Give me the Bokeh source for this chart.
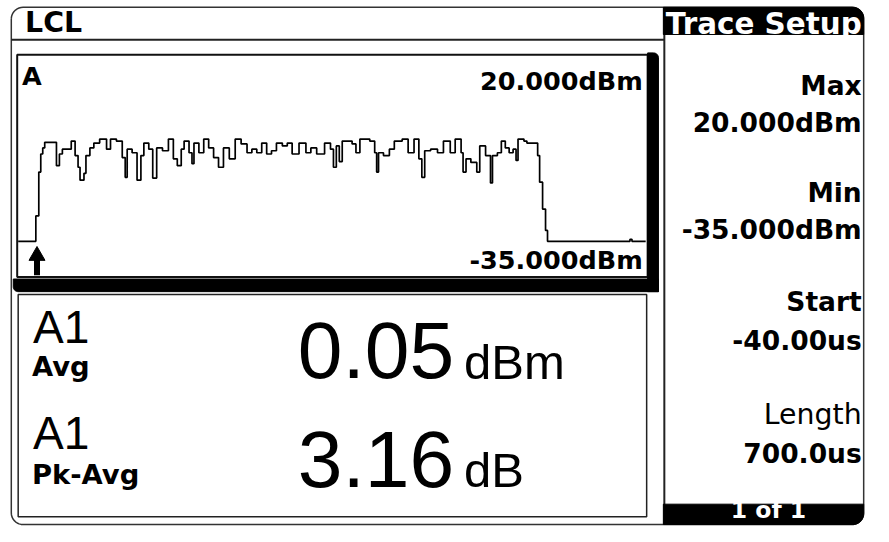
import numpy as np
from bokeh.plotting import figure
from bokeh.models import Range1d
from bokeh.core.properties import value
from bokeh.embed import file_html
from bokeh.resources import INLINE

HEADER = "LCL"
MENU_TITLE = "Trace Setup"
MENU_PAGE = "1 of 1"
CHANNEL = "A"
MAX_DBM = 20.0
MIN_DBM = -35.0
START_US = -40.0
LENGTH_US = 700.0
MEAS_NAMES = ["A1", "A1"]
MEAS_KINDS = ["Avg", "Pk-Avg"]
MEAS_VALUES = [0.05, 3.16]
MEAS_UNITS = ["dBm", "dB"]
TRIGGER_US = -19.0

TRACE_US = [-40.0, -20.3, -17.0, -14.8, -12.6, -10.4, 2.7, 6.0, 9.3, 19.2,
            23.5, 26.8, 29.0, 33.4, 35.6, 40.0, 44.4, 50.9, 58.6, 63.0,
            69.6, 76.1, 79.4, 81.6, 87.1, 92.6, 96.9, 100.2, 105.7, 110.1,
            114.5, 121.0, 127.6, 133.1, 137.5, 141.9, 145.1, 150.6, 153.9, 156.1,
            161.6, 167.0, 172.5, 178.0, 183.5, 189.0, 195.5, 202.1, 208.7, 215.3,
            220.7, 226.2, 231.7, 237.2, 242.6, 248.1, 254.7, 260.2, 265.6, 273.3,
            281.0, 286.5, 293.0, 301.8, 308.4, 311.7, 314.9, 318.2, 321.5, 332.5,
            336.8, 341.2, 352.2, 357.7, 359.9, 362.0, 367.5, 374.1, 379.6, 388.4,
            395.0, 401.6, 407.0, 410.3, 413.5, 420.1, 427.8, 434.4, 442.0, 447.5,
            454.1, 456.3, 459.6, 465.0, 471.6, 474.9, 481.4, 486.9, 489.1, 494.6,
            499.0, 503.4, 507.7, 512.1, 515.4, 517.6, 524.2, 527.5, 539.5, 541.7,
            545.0, 548.3, 550.5, 642.5, 644.7, 660.0]
TRACE_DBM = [-26.1, -19.8, -8.9, -4.4, -2.9, -1.5, -7.3, -4.4, -3.2, -1.2,
             -4.8, -7.7, -10.9, -9.2, -4.8, -2.9, -1.7, -0.7, -3.2, -0.7,
             -1.2, -5.3, -10.2, -3.2, -4.1, -10.9, -4.8, -1.7, -3.2, -10.4,
             -2.9, -3.6, -0.7, -5.6, -7.3, -3.2, -1.2, -4.1, -6.8, -1.7,
             -4.1, -0.7, -2.9, -5.3, -7.7, -2.9, -5.6, -0.7, -1.9, -4.1,
             -3.2, -4.1, -1.7, -4.4, -3.6, -1.7, -2.4, -1.7, -4.4, -1.7,
             -4.1, -2.9, -4.4, -1.7, -3.2, -7.7, -2.4, -6.3, -1.2, -1.9,
             -4.1, -0.7, -1.2, -4.1, -8.9, -4.1, -4.8, -3.2, -1.2, -0.7,
             -4.1, -0.7, -5.6, -10.2, -3.6, -3.2, -4.1, -1.2, -4.1, -0.7,
             -4.1, -8.9, -5.6, -6.5, -8.9, -2.4, -4.8, -11.6, -4.8, -4.1,
             -1.2, -2.9, -4.1, -3.2, -6.0, -0.7, -1.2, -1.7, -4.8, -11.4,
             -18.1, -23.4, -26.1, -25.6, -26.1, -26.1]

# ---------------- layout (reference-pixel frame of the display) ----------------
W, H = 873, 526
SX0, SX1 = 0, 889          # reference x covered by canvas
SY0, SY1 = 0, 542          # reference y covered by canvas
PX0, PX1 = 18, 657         # trace area, reference x
PY0, PY1 = 57, 285         # trace area, reference y
FS = 0.98                  # font scale (canvas / reference)

us_per_px = LENGTH_US / (PX1 - PX0)
db_per_px = (MAX_DBM - MIN_DBM) / (PY1 - PY0)

p = figure(width=W, height=H, output_backend="svg", toolbar_location=None,
           x_range=Range1d(SX0, SX1), y_range=Range1d(SY1, SY0),
           min_border=0, outline_line_color=None)
p.axis.visible = False
p.grid.visible = False
p.background_fill_color = "white"
p.border_fill_color = "white"

p.extra_x_ranges = {"us": Range1d(START_US - (PX0 - SX0) * us_per_px,
                                  START_US + LENGTH_US + (SX1 - PX1) * us_per_px)}
p.extra_y_ranges = {"dbm": Range1d(MIN_DBM - (SY1 - PY1) * db_per_px,
                                   MAX_DBM + (PY0 - SY0) * db_per_px)}


def rrect(x0, y0, x1, y1, r, corners=(True, True, True, True)):
    xs, ys = [], []
    specs = [((x0 + r, y0 + r), 180, 270, (x0, y0)),
             ((x1 - r, y0 + r), 270, 360, (x1, y0)),
             ((x1 - r, y1 - r), 0, 90, (x1, y1)),
             ((x0 + r, y1 - r), 90, 180, (x0, y1))]
    for on, (c, a0, a1, pt) in zip(corners, specs):
        if on:
            t = np.radians(np.linspace(a0, a1, 10))
            xs += list(c[0] + r * np.cos(t))
            ys += list(c[1] + r * np.sin(t))
        else:
            xs.append(pt[0]); ys.append(pt[1])
    xs.append(xs[0]); ys.append(ys[0])
    return xs, ys


INK = "#000000"

# outer rounded frame
ox, oy = rrect(11, 7, 879, 540, 12)
p.line(ox, oy, line_color="#333333", line_width=1.5)

# header separator and menu divider
p.segment(x0=[11], y0=[40.5], x1=[676], y1=[40.5], line_color="#222222", line_width=2)
p.segment(x0=[676], y0=[7], x1=[676], y1=[540], line_color="#222222", line_width=2)

# menu title band and page band
tx, ty = rrect(675, 7, 879, 35, 11, corners=(False, True, False, False))
p.patch(tx, ty, fill_color=INK, line_color=INK)
bx, by = rrect(675, 519, 879, 540, 11, corners=(False, False, True, False))
p.patch(bx, by, fill_color=INK, line_color=INK)

# trace window
p.quad(left=[17], right=[659], top=[56], bottom=[285], fill_color=None,
       line_color="#111111", line_width=2)
sx, sy = rrect(659, 54, 670, 300, 5, corners=(False, True, False, False))
p.patch(sx, sy, fill_color=INK, line_color=INK)
bx2, by2 = rrect(13, 287, 670, 300, 5, corners=(False, False, False, True))
p.patch(bx2, by2, fill_color=INK, line_color=INK)

# measurement window
p.quad(left=[18], right=[658], top=[303], bottom=[532], fill_color=None,
       line_color="#222222", line_width=1.5)

# trace
p.step(x=TRACE_US, y=TRACE_DBM, mode="after", x_range_name="us", y_range_name="dbm",
       line_color=INK, line_width=1.7)

# trigger marker
p.scatter(x=[TRIGGER_US], y=[263], x_range_name="us", marker="triangle", size=16,
          fill_color=INK, line_color=INK)
p.segment(x0=[TRIGGER_US], y0=[266], x1=[TRIGGER_US], y1=[283], x_range_name="us",
          line_color=INK, line_width=6)


def txt(x, y_base, s, size, align="left", color=INK, font="DejaVu Sans", style="bold"):
    # text is anchored at its middle; place it so its baseline sits at y_base
    fs = size * FS
    p.text(x=[x], y=[y_base - 0.36 * size], text=[s], text_font=value(font),
           text_font_size=f"{fs:.1f}px", text_font_style=style, text_align=align,
           text_baseline="middle", text_color=color)


txt(25, 33, HEADER, 29)
txt(877, 35, MENU_TITLE, 30, align="right", color="white")
txt(782, 534, MENU_PAGE, 24, align="center", color="white")

# menu soft keys
RX = 877
txt(RX, 97, "Max", 27, align="right")
txt(RX, 135, f"{MAX_DBM:.3f}dBm", 27, align="right")
txt(RX, 208, "Min", 27, align="right")
txt(RX, 246, f"{MIN_DBM:.3f}dBm", 27, align="right")
txt(RX, 320, "Start", 27, align="right")
txt(RX, 360, f"{START_US:.2f}us", 27, align="right")
txt(RX, 437, "Length", 29, align="right", style="normal")
txt(RX, 477, f"{LENGTH_US:.1f}us", 27, align="right")

# trace window labels
txt(22, 87, CHANNEL, 26)
txt(654, 92, f"{MAX_DBM:.3f}dBm", 26, align="right")
txt(654, 277, f"{MIN_DBM:.3f}dBm", 26, align="right")

# measurements
rows_y = [(353, 390), (463, 502)]
for (ya, yb), nm, kind, val, unit in zip(rows_y, MEAS_NAMES, MEAS_KINDS, MEAS_VALUES, MEAS_UNITS):
    txt(33, ya, nm, 47, font="Liberation Sans", style="normal")
    txt(32, yb - 3 if kind == "Avg" else yb - 4, kind, 28)
    txt(462, yb, f"{val:.2f}", 82, align="right", font="Liberation Sans", style="normal")
    txt(472, yb, unit, 50, font="Liberation Sans", style="normal")

open("out.html", "w").write(file_html(p, INLINE))
